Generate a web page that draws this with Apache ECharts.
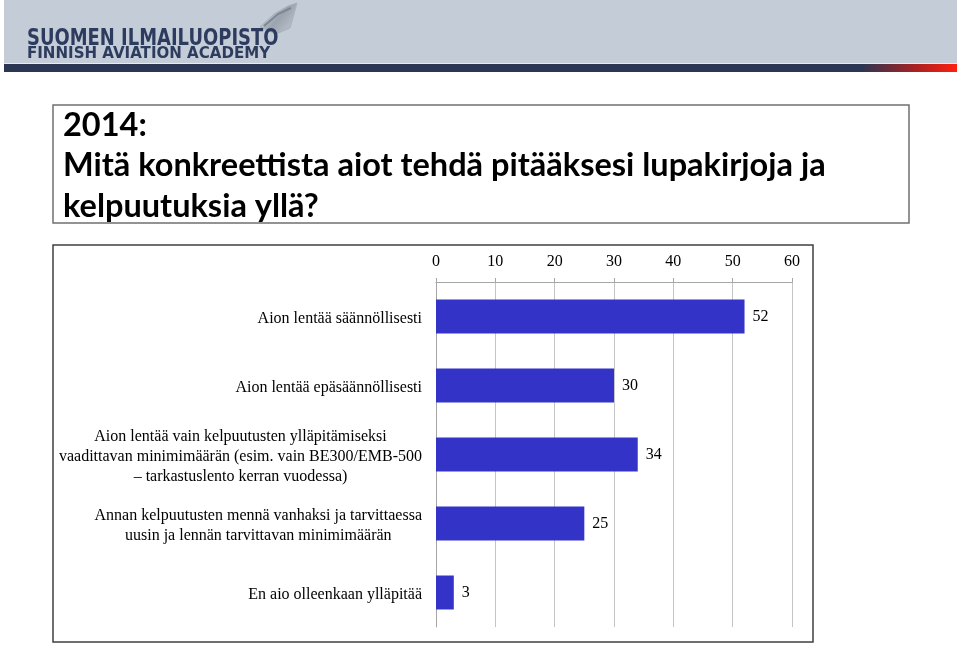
<!DOCTYPE html>
<html>
<head>
<meta charset="utf-8">
<script src="https://cdn.jsdelivr.net/npm/echarts@6/dist/echarts.min.js"></script>
<style>
html,body{margin:0;padding:0;background:#fff;}
#chart{width:960px;height:645px;}
</style>
</head>
<body>
<div id="chart"></div>
<script>
var categories = [
  'Aion lentää säännöllisesti',
  'Aion lentää epäsäännöllisesti',
  'Aion lentää vain kelpuutusten ylläpitämiseksi\nvaadittavan minimimäärän (esim. vain BE300/EMB-500\n– tarkastuslento kerran vuodessa)',
  'Annan kelpuutusten mennä vanhaksi ja tarvittaessa\nuusin ja lennän tarvittavan minimimäärän',
  'En aio olleenkaan ylläpitää'
];
var values = [52, 30, 34, 25, 3];
var axisMin = 0, axisMax = 60, axisStep = 10;
var titleLines = ['2014:', 'Mitä konkreettista aiot tehdä pitääksesi lupakirjoja ja', 'kelpuutuksia yllä?'];
var logoLines = ['SUOMEN ILMAILUOPISTO', 'FINNISH AVIATION ACADEMY'];

var chart = echarts.init(document.getElementById('chart'), null, {renderer: 'canvas'});

var serif = '"Liberation Serif", "Times New Roman", serif';

var graphics = [
  // header band
  {type: 'rect', shape: {x: 4, y: 0, width: 953, height: 64}, style: {fill: '#c4cdd7'}, z: 0},
  {type: 'rect', shape: {x: 4, y: 63, width: 953, height: 9},
   style: {fill: new echarts.graphic.LinearGradient(0, 0, 1, 0, [
     {offset: 0, color: '#2b3652'}, {offset: 0.9, color: '#2b3652'},
     {offset: 0.96, color: '#b02020'}, {offset: 1, color: '#ff2010'}])}, z: 1},
  {type: 'rect', shape: {x: 4, y: 63, width: 953, height: 1}, style: {fill: '#e8ecf0'}, z: 2},
  // bird logo
  {type: 'polygon', shape: {points: [[260, 27], [274, 14], [288, 6], [297, 3], [294, 14], [290, 28], [276, 34]]},
   style: {fill: new echarts.graphic.LinearGradient(0, 0, 1, 1, [
     {offset: 0, color: '#eef1f4'}, {offset: 0.5, color: '#9aa3ae'}, {offset: 1, color: '#c8cfd6'}]), stroke: '#a9b1bb', lineWidth: 1}, z: 1},
  {type: 'polyline', shape: {points: [[264, 26], [278, 14], [291, 8]]}, style: {stroke: '#7d8693', lineWidth: 2}, z: 1},
  {type: 'text', x: 27, y: 39, scaleX: 0.78, style: {text: logoLines[0], x: 0, y: 0, font: 'bold 23px "DejaVu Sans", sans-serif', fill: '#2d3b5e', verticalAlign: 'middle'}, z: 3},
  {type: 'text', x: 27, y: 54, scaleX: 0.94, style: {text: logoLines[1], x: 0, y: 0, font: 'bold 16px "DejaVu Sans", sans-serif', fill: '#2d3b5e', verticalAlign: 'middle'}, z: 3},
  // title box
  {type: 'rect', shape: {x: 53, y: 105, width: 856, height: 118}, style: {fill: '#fff', stroke: '#707070', lineWidth: 1.5}, z: 1},
  {type: 'text', style: {text: titleLines[0], x: 63, y: 126, font: 'bold 32.5px Lato, sans-serif', fill: '#000', verticalAlign: 'middle'}, z: 3},
  {type: 'text', style: {text: titleLines[1], x: 63, y: 166, font: 'bold 32.5px Lato, sans-serif', fill: '#000', verticalAlign: 'middle'}, z: 3},
  {type: 'text', style: {text: titleLines[2], x: 63, y: 207, font: 'bold 32.5px Lato, sans-serif', fill: '#000', verticalAlign: 'middle'}, z: 3},
  // chart box
  {type: 'rect', shape: {x: 53, y: 245, width: 760, height: 397}, style: {fill: 'none', stroke: '#404040', lineWidth: 1.5}, z: 1}
];

function richLabel(v) {
  return v.split('\n').map(function (l) { return '{c|' + l + '}'; }).join('\n');
}

chart.setOption({
  animation: false,
  backgroundColor: '#ffffff',
  graphic: graphics,
  grid: {left: 436, right: 168, top: 282, bottom: 18, containLabel: false},
  xAxis: {
    type: 'value', position: 'top', min: axisMin, max: axisMax, interval: axisStep,
    axisLine: {show: true, lineStyle: {color: '#a6a6a6', width: 1}},
    axisTick: {show: true, inside: false, length: 4, lineStyle: {color: '#a6a6a6'}},
    axisLabel: {fontFamily: serif, fontSize: 16, color: '#000', margin: 12},
    splitLine: {show: true, lineStyle: {color: '#c4c4c4', width: 1}}
  },
  yAxis: {
    type: 'category', inverse: true, data: categories,
    axisLine: {show: true, lineStyle: {color: '#a6a6a6', width: 1}},
    axisTick: {show: false},
    axisLabel: {
      fontFamily: serif, fontSize: 16, color: '#000', margin: 14, align: 'right',
      lineHeight: 20, padding: [4, 0, 0, 0],
      formatter: richLabel,
      rich: {c: {align: 'center', fontFamily: serif, fontSize: 16, color: '#000', lineHeight: 20}}
    }
  },
  series: [{
    type: 'bar', data: values, barWidth: 34,
    itemStyle: {color: '#3333c8'},
    label: {show: true, position: 'right', distance: 8, fontFamily: serif, fontSize: 16, color: '#000'}
  }]
});
</script>
</body>
</html>
